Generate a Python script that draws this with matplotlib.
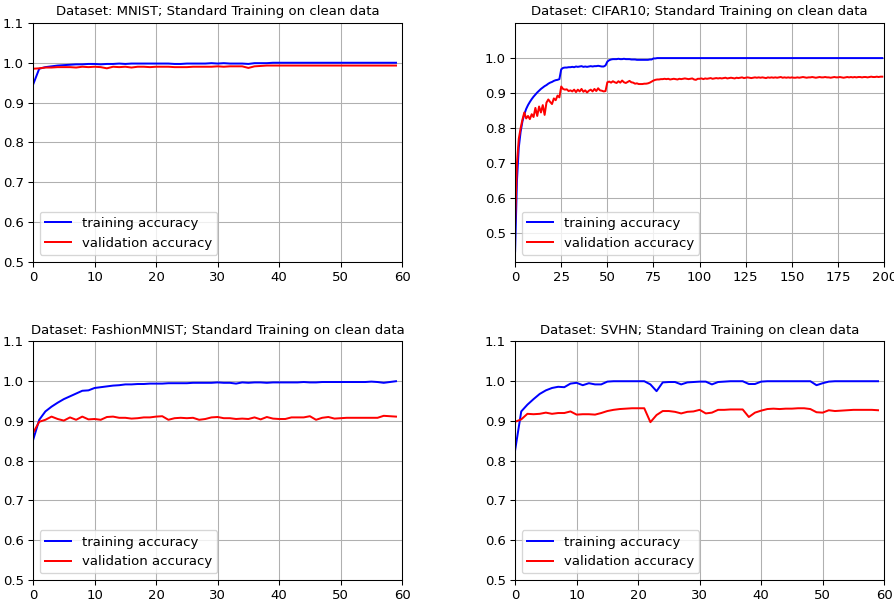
import matplotlib
matplotlib.use('Agg')
import matplotlib.pyplot as plt
import numpy as np

# ── DATA ──────────────────────────────────────────────
mnist_train = [0.945, 0.985, 0.989, 0.991, 0.993, 0.994, 0.995, 0.996, 0.996, 0.997,
               0.997, 0.996, 0.997, 0.997, 0.998, 0.997, 0.998, 0.998, 0.998, 0.998,
               0.998, 0.998, 0.998, 0.997, 0.997, 0.998, 0.998, 0.998, 0.998, 0.999,
               0.998, 0.999, 0.998, 0.998, 0.998, 0.997, 0.999, 0.999, 0.999, 1.000,
               1.000, 1.000, 1.000, 1.000, 1.000, 1.000, 1.000, 1.000, 1.000, 1.000,
               1.000, 1.000, 1.000, 1.000, 1.000, 1.000, 1.000, 1.000, 1.000, 1.000]
mnist_val = [0.985, 0.986, 0.988, 0.988, 0.989, 0.989, 0.989, 0.988, 0.990, 0.989,
             0.990, 0.989, 0.986, 0.990, 0.989, 0.990, 0.988, 0.990, 0.990, 0.989,
             0.990, 0.990, 0.990, 0.989, 0.989, 0.989, 0.990, 0.990, 0.990, 0.990,
             0.991, 0.990, 0.991, 0.991, 0.991, 0.987, 0.991, 0.992, 0.993, 0.993,
             0.993, 0.993, 0.993, 0.993, 0.993, 0.993, 0.993, 0.993, 0.993, 0.993,
             0.993, 0.993, 0.993, 0.993, 0.993, 0.993, 0.993, 0.993, 0.993, 0.993]

cifar_train = [0.449, 0.650, 0.745, 0.790, 0.820, 0.840, 0.855, 0.866, 0.875, 0.883,
               0.890, 0.896, 0.902, 0.907, 0.912, 0.916, 0.920, 0.923, 0.927, 0.930,
               0.932, 0.935, 0.937, 0.938, 0.940, 0.968, 0.972, 0.973, 0.973, 0.974,
               0.974, 0.975, 0.974, 0.976, 0.975, 0.976, 0.977, 0.975, 0.976, 0.975,
               0.976, 0.977, 0.976, 0.977, 0.977, 0.978, 0.977, 0.976, 0.976, 0.979,
               0.990, 0.994, 0.996, 0.997, 0.997, 0.997, 0.998, 0.997, 0.997, 0.998,
               0.997, 0.997, 0.997, 0.996, 0.996, 0.996, 0.995, 0.995, 0.995, 0.995,
               0.995, 0.995, 0.995, 0.996, 0.996, 0.999, 0.999, 1.000, 1.000, 1.000,
               1.000, 1.000, 1.000, 1.000, 1.000, 1.000, 1.000, 1.000, 1.000, 1.000,
               1.000, 1.000, 1.000, 1.000, 1.000, 1.000, 1.000, 1.000, 1.000, 1.000,
               1.000, 1.000, 1.000, 1.000, 1.000, 1.000, 1.000, 1.000, 1.000, 1.000,
               1.000, 1.000, 1.000, 1.000, 1.000, 1.000, 1.000, 1.000, 1.000, 1.000,
               1.000, 1.000, 1.000, 1.000, 1.000, 1.000, 1.000, 1.000, 1.000, 1.000,
               1.000, 1.000, 1.000, 1.000, 1.000, 1.000, 1.000, 1.000, 1.000, 1.000,
               1.000, 1.000, 1.000, 1.000, 1.000, 1.000, 1.000, 1.000, 1.000, 1.000,
               1.000, 1.000, 1.000, 1.000, 1.000, 1.000, 1.000, 1.000, 1.000, 1.000,
               1.000, 1.000, 1.000, 1.000, 1.000, 1.000, 1.000, 1.000, 1.000, 1.000,
               1.000, 1.000, 1.000, 1.000, 1.000, 1.000, 1.000, 1.000, 1.000, 1.000,
               1.000, 1.000, 1.000, 1.000, 1.000, 1.000, 1.000, 1.000, 1.000, 1.000,
               1.000, 1.000, 1.000, 1.000, 1.000, 1.000, 1.000, 1.000, 1.000, 1.000]
cifar_val = [0.530, 0.700, 0.770, 0.800, 0.825, 0.845, 0.828, 0.835, 0.826, 0.840,
             0.832, 0.858, 0.835, 0.862, 0.845, 0.866, 0.838, 0.873, 0.882, 0.875,
             0.869, 0.885, 0.880, 0.893, 0.888, 0.919, 0.912, 0.910, 0.911, 0.906,
             0.908, 0.905, 0.910, 0.903, 0.910, 0.905, 0.912, 0.904, 0.908, 0.902,
             0.907, 0.910, 0.905, 0.912, 0.906, 0.914, 0.908, 0.907, 0.905, 0.906,
             0.931, 0.933, 0.930, 0.934, 0.931, 0.929, 0.934, 0.930, 0.936, 0.931,
             0.929, 0.932, 0.935, 0.931, 0.930, 0.927, 0.928, 0.926, 0.926, 0.926,
             0.927, 0.927, 0.928, 0.930, 0.933, 0.936, 0.938, 0.939, 0.939, 0.940,
             0.940, 0.941, 0.940, 0.941, 0.939, 0.940, 0.941, 0.940, 0.939, 0.941,
             0.940, 0.941, 0.942, 0.941, 0.940, 0.941, 0.942, 0.939, 0.938, 0.941,
             0.941, 0.942, 0.940, 0.942, 0.941, 0.942, 0.943, 0.941, 0.942, 0.943,
             0.942, 0.943, 0.942, 0.943, 0.944, 0.942, 0.943, 0.944, 0.943, 0.942,
             0.944, 0.943, 0.944, 0.945, 0.943, 0.944, 0.945, 0.944, 0.943, 0.944,
             0.945, 0.944, 0.945, 0.944, 0.945, 0.944, 0.943, 0.945, 0.944, 0.945,
             0.944, 0.945, 0.944, 0.945, 0.946, 0.944, 0.945, 0.944, 0.945, 0.944,
             0.945, 0.944, 0.944, 0.945, 0.944, 0.945, 0.946, 0.945, 0.944, 0.945,
             0.945, 0.946, 0.945, 0.944, 0.945, 0.946, 0.945, 0.945, 0.946, 0.945,
             0.945, 0.944, 0.945, 0.946, 0.945, 0.945, 0.946, 0.945, 0.944, 0.945,
             0.946, 0.945, 0.946, 0.945, 0.946, 0.945, 0.946, 0.946, 0.945, 0.946,
             0.946, 0.945, 0.946, 0.947, 0.946, 0.946, 0.947, 0.946, 0.947, 0.947]

fashion_train = [0.852, 0.903, 0.924, 0.936, 0.946, 0.955, 0.962, 0.969, 0.976, 0.977,
                 0.983, 0.985, 0.987, 0.989, 0.990, 0.992, 0.992, 0.993, 0.993, 0.994,
                 0.994, 0.994, 0.995, 0.995, 0.995, 0.995, 0.996, 0.996, 0.996, 0.996,
                 0.997, 0.996, 0.996, 0.994, 0.997, 0.996, 0.997, 0.997, 0.996, 0.997,
                 0.997, 0.997, 0.997, 0.997, 0.998, 0.997, 0.997, 0.998, 0.998, 0.998,
                 0.998, 0.998, 0.998, 0.998, 0.998, 0.999, 0.998, 0.996, 0.998, 1.000]
fashion_val = [0.870, 0.898, 0.903, 0.911, 0.905, 0.901, 0.909, 0.903, 0.911, 0.904,
               0.905, 0.903, 0.910, 0.911, 0.908, 0.908, 0.906, 0.907, 0.909, 0.909,
               0.911, 0.912, 0.903, 0.907, 0.908, 0.907, 0.908, 0.903, 0.905, 0.909,
               0.910, 0.907, 0.907, 0.905, 0.906, 0.905, 0.909, 0.904, 0.910, 0.906,
               0.905, 0.905, 0.909, 0.909, 0.909, 0.912, 0.903, 0.908, 0.910, 0.906,
               0.907, 0.908, 0.908, 0.908, 0.908, 0.908, 0.908, 0.913, 0.912, 0.911]

svhn_train = [0.826, 0.924, 0.941, 0.955, 0.968, 0.977, 0.983, 0.986, 0.985, 0.994,
              0.996, 0.990, 0.995, 0.992, 0.992, 0.999, 1.000, 1.000, 1.000, 1.000,
              1.000, 1.000, 0.992, 0.975, 0.997, 0.998, 0.998, 0.992, 0.997, 0.998,
              0.999, 0.999, 0.992, 0.998, 0.999, 1.000, 1.000, 1.000, 0.993, 0.993,
              0.999, 1.000, 1.000, 1.000, 1.000, 1.000, 1.000, 1.000, 1.000, 0.990,
              0.995, 0.999, 1.000, 1.000, 1.000, 1.000, 1.000, 1.000, 1.000, 1.000]
svhn_val = [0.898, 0.904, 0.918, 0.917, 0.918, 0.921, 0.918, 0.920, 0.920, 0.924,
            0.916, 0.917, 0.917, 0.916, 0.920, 0.925, 0.928, 0.930, 0.931, 0.932,
            0.932, 0.932, 0.897, 0.915, 0.925, 0.925, 0.923, 0.919, 0.923, 0.924,
            0.928, 0.919, 0.921, 0.928, 0.928, 0.929, 0.929, 0.929, 0.910, 0.921,
            0.926, 0.930, 0.931, 0.930, 0.931, 0.931, 0.932, 0.932, 0.930, 0.922,
            0.921, 0.927, 0.925, 0.926, 0.927, 0.928, 0.928, 0.928, 0.928, 0.927]

panels = [
    ('MNIST', mnist_train, mnist_val, (0.5, 1.1), 60),
    ('CIFAR10', cifar_train, cifar_val, (0.42, 1.1), 200),
    ('FashionMNIST', fashion_train, fashion_val, (0.5, 1.1), 60),
    ('SVHN', svhn_train, svhn_val, (0.5, 1.1), 60),
]

# ── PLOT ──────────────────────────────────────────────
DPI = 95
plt.rcParams['font.size'] = 10
fig, axes = plt.subplots(2, 2, figsize=(894 / DPI, 599 / DPI), dpi=DPI)
fig.subplots_adjust(left=0.037, right=0.989, top=0.9616, bottom=0.0317,
                    wspace=0.306, hspace=0.335)

for ax, (name, train, val, ylim, xmax) in zip(axes.flat, panels):
    epochs = np.arange(len(train))
    ax.plot(epochs, train, 'b', label='training accuracy')
    ax.plot(epochs, val, 'r', label='validation accuracy')
    ax.set_title(f'Dataset: {name}; Standard Training on clean data', fontsize=10)
    ax.set_xlim(0, xmax)
    ax.set_ylim(*ylim)
    ax.set_yticks([0.5, 0.6, 0.7, 0.8, 0.9, 1.0, 1.1] if ylim[0] == 0.5
                  else [0.5, 0.6, 0.7, 0.8, 0.9, 1.0])
    ax.grid(True)
    ax.legend(loc='lower left', fontsize=10)

plt.savefig('out.png', dpi=DPI)
